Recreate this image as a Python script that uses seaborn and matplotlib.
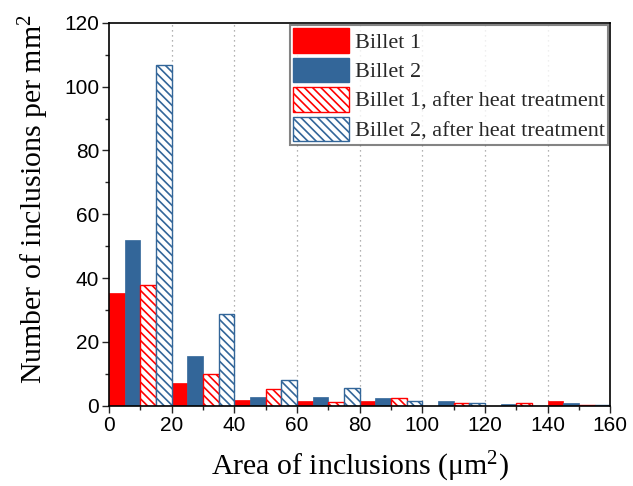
import matplotlib
matplotlib.use("Agg")
import matplotlib.pyplot as plt
from matplotlib.patches import Patch
from matplotlib.ticker import MultipleLocator
import seaborn as sns
import pandas as pd

bin_centers = [10, 30, 50, 70, 90, 110, 130, 150]
billet1 = [35.3, 7.3, 1.9, 1.6, 1.4, 0.0, 0.0, 1.6]
billet2 = [52.0, 15.6, 2.7, 2.8, 2.3, 1.4, 0.6, 0.9]
billet1_ht = [37.7, 9.9, 5.2, 1.3, 2.6, 0.9, 0.9, 0.4]
billet2_ht = [106.8, 28.8, 8.1, 5.5, 1.6, 0.9, 0.0, 0.3]
series_names = ["Billet 1", "Billet 2", "Billet 1, after heat treatment",
                "Billet 2, after heat treatment"]
xticks = [0, 20, 40, 60, 80, 100, 120, 140, 160]
yticks = [0, 20, 40, 60, 80, 100, 120]

red = "#FF0000"
blue = "#336699"
colors = [red, blue, red, blue]
hatched = [False, False, True, True]

rows = []
for name, vals in zip(series_names, [billet1, billet2, billet1_ht, billet2_ht]):
    for c, v in zip(bin_centers, vals):
        rows.append({"area": c, "count": v, "series": name})
df = pd.DataFrame(rows)

sns.set_theme(style="white")
plt.rcParams["mathtext.fontset"] = "custom"
plt.rcParams["mathtext.rm"] = "Liberation Serif"
plt.rcParams["mathtext.it"] = "Liberation Serif:italic"
plt.rcParams["hatch.linewidth"] = 1.2

fig = plt.figure(figsize=(6.33, 4.86), dpi=100)
ax = fig.add_axes([0.172, 0.165, 0.792, 0.788])

sns.barplot(data=df, x="area", y="count", hue="series", hue_order=series_names,
            native_scale=True, width=1.0, palette=colors, ax=ax, legend=False,
            saturation=1, errorbar=None)

for cont, col, h in zip(ax.containers, colors, hatched):
    for p in cont:
        if h:
            p.set_facecolor("white")
            p.set_edgecolor(col)
            p.set_hatch("\\\\\\\\")
            p.set_linewidth(1.0)
        else:
            p.set_facecolor(col)
            p.set_edgecolor(col)
            p.set_linewidth(0.5)

ax.set_xlim(0, 160)
ax.set_ylim(0, 120)
ax.set_xticks(xticks)
ax.set_yticks(yticks)
ax.xaxis.set_minor_locator(MultipleLocator(10))
ax.yaxis.set_minor_locator(MultipleLocator(10))
ax.tick_params(axis="both", which="major", direction="out", length=5, width=1,
               bottom=True, left=True, top=False, right=False, labelsize=15, pad=2)
ax.tick_params(axis="both", which="minor", direction="out", length=3, width=1,
               bottom=True, left=True, top=False, right=False)
for lab in ax.get_xticklabels() + ax.get_yticklabels():
    lab.set_fontfamily("Liberation Sans")
    lab.set_color("black")

for s in ax.spines.values():
    s.set_visible(True)
    s.set_color("black")
    s.set_linewidth(1.2)

for x in xticks[1:-1]:
    ax.axvline(x, color="#999999", linestyle=(0, (1, 3)), linewidth=0.9, zorder=0)

ax.set_xlabel("Area of inclusions (\u03bcm$^2$)", fontfamily="Liberation Serif",
              fontsize=21.5, color="black", labelpad=11)
ax.set_ylabel("Number of inclusions per mm$^2$", fontfamily="Liberation Serif",
              fontsize=21.5, color="black")
ax.yaxis.set_label_coords(-0.115, 0.54)

handles = []
for name, col, h in zip(series_names, colors, hatched):
    if h:
        handles.append(Patch(facecolor="white", edgecolor=col, hatch="\\\\\\\\",
                             linewidth=1.0, label=name))
    else:
        handles.append(Patch(facecolor=col, edgecolor=col, label=name))
leg = ax.legend(handles=handles, loc="upper right", bbox_to_anchor=(1.0, 1.0),
                prop={"family": "Liberation Serif", "size": 16},
                frameon=True, fancybox=False, edgecolor="#666666",
                handlelength=2.5, handleheight=1.3, handletextpad=0.27,
                labelspacing=0.22, borderpad=0.15, borderaxespad=0.1)
leg.get_frame().set_linewidth(1.5)

fig.savefig("out.png", dpi=100)
